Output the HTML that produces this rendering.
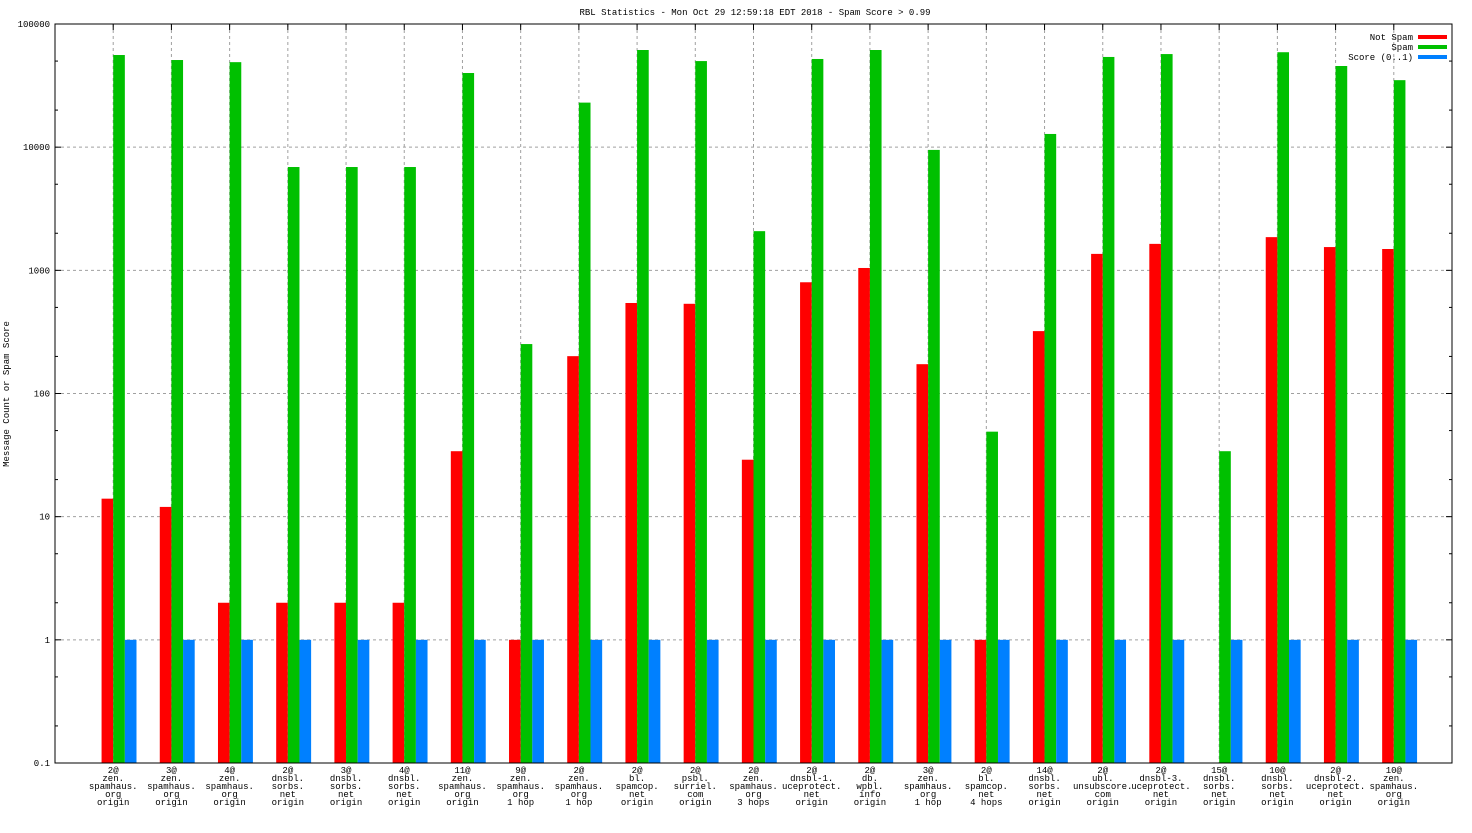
<!DOCTYPE html>
<html><head><meta charset="utf-8"><style>
html,body{margin:0;padding:0;background:#fff}
svg text{font-family:"Liberation Mono",monospace;font-size:9px;fill:#000}
</style></head><body>
<svg id="chart" width="1472" height="828" viewBox="0 0 1472 828" xmlns="http://www.w3.org/2000/svg">
<text x="755" y="15" text-anchor="middle">RBL Statistics - Mon Oct 29 12:59:18 EDT 2018 - Spam Score &gt; 0.99</text>
<text transform="translate(9,394) rotate(-90)" text-anchor="middle" font-size="8">Message Count or Spam Score</text>
<g id="grid"></g>
<g id="bars"></g>
<g id="axes"></g>
<g id="legend">
<text x="1413" y="40" text-anchor="end">Not Spam</text>
<rect x="1418" y="35" width="29" height="4" fill="#ff0000"/>
<text x="1413" y="50" text-anchor="end">Spam</text>
<rect x="1418" y="45" width="29" height="4" fill="#00c000"/>
<text x="1413" y="60" text-anchor="end">Score (0..1)</text>
<rect x="1418" y="55" width="29" height="4" fill="#0080ff"/>
</g>
</svg>
<script>
const categories = [
 ["2@","zen.","spamhaus.","org","origin"],["3@","zen.","spamhaus.","org","origin"],["4@","zen.","spamhaus.","org","origin"],
 ["2@","dnsbl.","sorbs.","net","origin"],["3@","dnsbl.","sorbs.","net","origin"],["4@","dnsbl.","sorbs.","net","origin"],
 ["11@","zen.","spamhaus.","org","origin"],["9@","zen.","spamhaus.","org","1 hop"],["2@","zen.","spamhaus.","org","1 hop"],
 ["2@","bl.","spamcop.","net","origin"],["2@","psbl.","surriel.","com","origin"],["2@","zen.","spamhaus.","org","3 hops"],
 ["2@","dnsbl-1.","uceprotect.","net","origin"],["2@","db.","wpbl.","info","origin"],["3@","zen.","spamhaus.","org","1 hop"],
 ["2@","bl.","spamcop.","net","4 hops"],["14@","dnsbl.","sorbs.","net","origin"],["2@","ubl.","unsubscore.","com","origin"],
 ["2@","dnsbl-3.","uceprotect.","net","origin"],["15@","dnsbl.","sorbs.","net","origin"],["10@","dnsbl.","sorbs.","net","origin"],
 ["2@","dnsbl-2.","uceprotect.","net","origin"],["10@","zen.","spamhaus.","org","origin"]
];
const notSpam = [14,12,2,2,2,2,34,1,201,543,535,29,800,1045,173,1,321,1360,1640,0,1860,1545,1490];
const spam = [56000,51000,49000,6900,6900,6900,40000,252,23000,61500,50000,2080,52000,61500,9500,49,12800,54000,57000,34,59000,45600,35000];
const score = [1,1,1,1,1,1,1,1,1,1,1,1,1,1,1,1,1,1,1,1,1,1,1];
const yTicks = [0.1,1,10,100,1000,10000,100000];
const yTickLabels = ["0.1","1","10","100","1000","10000","100000"];

const L=55,R=1452,T=24,B=763;
const NS="http://www.w3.org/2000/svg";
const xMin=-1,xMax=categories.length;
function xs(v){return L+(v-xMin)/(xMax-xMin)*(R-L);}
function ys(v){return B-(Math.log10(v)+1)/6*(B-T);}
function mk(tag,attrs,parent){const e=document.createElementNS(NS,tag);for(const k in attrs)e.setAttribute(k,attrs[k]);parent.appendChild(e);return e;}
const grid=document.getElementById('grid'),bars=document.getElementById('bars'),axes=document.getElementById('axes');
const unit=(R-L)/(xMax-xMin);

yTicks.forEach((t,i)=>{
 const y=ys(t);
 if(i>0&&i<yTicks.length-1){const g=mk('line',{x1:L,x2:R,y1:y,y2:y,stroke:'#a0a0a0','stroke-dasharray':'3,3'},grid);
 
 }
 const tk=mk('line',{x1:L,x2:L+6,y1:y,y2:y,stroke:'#000'},axes);
 
 
 const tk2=mk('line',{x1:R-6,x2:R,y1:y,y2:y,stroke:'#000'},axes);
 
 
 const tx=mk('text',{x:L-5,y:y+3,'text-anchor':'end'},axes);tx.textContent=yTickLabels[i];
 
 
 if(i<yTicks.length-1){[2,5].forEach(m=>{const ym=ys(t*m);
  const mt=mk('line',{x1:L,x2:L+3,y1:ym,y2:ym,stroke:'#000'},axes);
  
  
  const mt2=mk('line',{x1:R-3,x2:R,y1:ym,y2:ym,stroke:'#000'},axes);
  
  });}
});

categories.forEach((c,i)=>{
 const x=xs(i);
 const g=mk('line',{x1:x,x2:x,y1:T,y2:B,stroke:'#a0a0a0','stroke-dasharray':'3,3'},grid);
 
 
 const tk=mk('line',{x1:x,x2:x,y1:T,y2:T+6,stroke:'#000'},axes);
 
 
 const tx=mk('text',{x:x,y:B+10,'text-anchor':'middle'},axes);
 
 
 c.forEach((s,j)=>{const ts=mk('tspan',{x:x,dy:j?8:0},tx);ts.textContent=s;});
 [[notSpam,'#ff0000',-0.2,'bar-not-spam'],[spam,'#00c000',0,'bar-spam'],[score,'#0080ff',0.2,'bar-score']].forEach(([arr,col,off,nm])=>{
  const v=arr[i]; if(!(v>0.1))return;
  const x0=xs(i+off), w=unit*0.2, y=ys(v);
  const r=mk('rect',{x:x0,y:y,width:w,height:B-y,fill:col},bars);
  
  
 });
});
const fr=mk('rect',{x:L,y:T,width:R-L,height:B-T,fill:'none',stroke:'#000'},axes);


</script>
</body></html>
